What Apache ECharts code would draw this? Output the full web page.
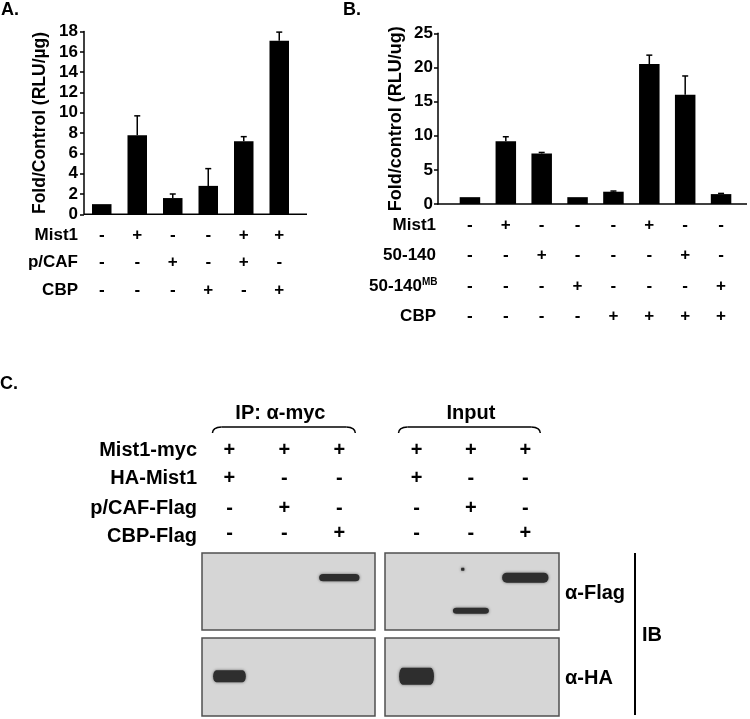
<!DOCTYPE html>
<html>
<head>
<meta charset="utf-8">
<script src="https://cdn.jsdelivr.net/npm/echarts@6/dist/echarts.min.js"></script>
<style>
  html, body { margin: 0; padding: 0; background: #fff; }
  #main { width: 750px; height: 719px; }
</style>
</head>
<body>
<div id="main"></div>
<script>
var FONT = '"Liberation Sans", Arial, Helvetica, sans-serif';

// ---- panel A : luciferase, Mist1 / p/CAF / CBP
var aCategories = ['1', '2', '3', '4', '5', '6'];
var aRowNames = ['Mist1', 'p/CAF', 'CBP'];
var aSigns = [
  ['-', '+', '-', '-', '+', '+'],
  ['-', '-', '+', '-', '+', '-'],
  ['-', '-', '-', '+', '-', '+']
];
var aValues = [1.0, 7.8, 1.6, 2.8, 7.2, 17.1];
var aErrors = [0, 1.9, 0.4, 1.7, 0.45, 0.85];

// ---- panel B : Mist1 / 50-140 / 50-140MB / CBP
var bCategories = ['1', '2', '3', '4', '5', '6', '7', '8'];
var bRowNames = ['Mist1', '50-140', '50-140', 'CBP'];
var bSigns = [
  ['-', '+', '-', '-', '-', '+', '-', '-'],
  ['-', '-', '+', '-', '-', '-', '+', '-'],
  ['-', '-', '-', '+', '-', '-', '-', '+'],
  ['-', '-', '-', '-', '+', '+', '+', '+']
];
var bValues = [1.0, 9.2, 7.4, 1.0, 1.8, 20.5, 16.0, 1.45];
var bErrors = [0, 0.65, 0.15, 0, 0.1, 1.3, 2.75, 0.1];

// ---- panel C : co-IP blots
var cRowNames = ['Mist1-myc', 'HA-Mist1', 'p/CAF-Flag', 'CBP-Flag'];
var cSigns = [
  ['+', '+', '+'],
  ['+', '-', '-'],
  ['-', '+', '-'],
  ['-', '-', '+']
];
var cLanes = [1, 2, 3];
// band = [lane, migration (0 top .. 1 bottom), intensity, breadth]
var ipFlagBands = [[3, 0.32, 0.29, 0.74]];
var inputFlagBands = [[2, 0.75, 0.21, 0.66], [3, 0.32, 0.5, 0.85], [1.85, 0.21, 0, 0.06]];
var ipHaBands = [[1, 0.49, 0.64, 0.6]];
var inputHaBands = [[1, 0.49, 1.0, 0.64]];

var chart = echarts.init(document.getElementById('main'));

var black = { color: '#000', width: 1.5 };
var boldText = { fontFamily: FONT, fontWeight: 'bold', color: '#000' };

function signFormatter(rows) {
  return function (v, i) {
    return rows.map(function (r) { return r[i]; }).join('\n');
  };
}

function errorSeries(values, errors, idx) {
  return {
    type: 'custom',
    xAxisIndex: idx,
    yAxisIndex: idx,
    z: 3,
    data: values.map(function (v, i) { return [i, v, v + errors[i]]; }),
    renderItem: function (params, api) {
      if (api.value(2) <= api.value(1)) return null;
      var base = api.coord([api.value(0), api.value(1)]);
      var top = api.coord([api.value(0), api.value(2)]);
      return {
        type: 'group',
        children: [
          { type: 'line', shape: { x1: base[0], y1: base[1], x2: top[0], y2: top[1] }, style: { stroke: '#000', lineWidth: 1.5 } },
          { type: 'line', shape: { x1: top[0] - 3, y1: top[1], x2: top[0] + 3, y2: top[1] }, style: { stroke: '#000', lineWidth: 1.5 } }
        ]
      };
    }
  };
}

var bandPath = 'path://M10,0 L90,0 A10,50 0 0 1 90,100 L10,100 A10,50 0 0 1 10,0 Z';

function bandSeries(bands, idx) {
  return {
    type: 'scatter',
    xAxisIndex: idx,
    yAxisIndex: idx,
    symbol: bandPath,
    symbolSize: function (d) { return [Math.max(3, d[3] * 54.5), 3 + 14 * d[2]]; },
    itemStyle: { color: '#2e2e2e', opacity: 1, shadowBlur: 3, shadowColor: 'rgba(20,20,20,0.6)' },
    silent: true,
    data: bands
  };
}

function blotAxisX(idx, min, max) {
  return { gridIndex: idx, type: 'value', min: min, max: max, show: false };
}
function blotAxisY(idx) {
  return { gridIndex: idx, type: 'value', min: 0, max: 1, inverse: true, show: false };
}
var blotGrid = { show: true, backgroundColor: '#d6d6d6', borderColor: '#505050', borderWidth: 1.5 };

chart.setOption({
  animation: false,
  grid: [
    { left: 84, top: 31.6, width: 213, height: 182.7 },
    { left: 452, top: 33.3, width: 287, height: 170.7 },
    Object.assign({ left: 202, top: 553, width: 173, height: 77 }, blotGrid),
    Object.assign({ left: 385, top: 553, width: 174, height: 77 }, blotGrid),
    Object.assign({ left: 202, top: 638, width: 173, height: 78 }, blotGrid),
    Object.assign({ left: 385, top: 638, width: 174, height: 78 }, blotGrid)
  ],
  xAxis: [
    {
      gridIndex: 0, type: 'category', data: aCategories,
      axisLine: { show: false }, axisTick: { show: false },
      axisLabel: Object.assign({ interval: 0, margin: 7, lineHeight: 27.5, fontSize: 17, formatter: signFormatter(aSigns) }, boldText)
    },
    {
      gridIndex: 1, type: 'category', data: bCategories,
      axisLine: { show: false }, axisTick: { show: false },
      axisLabel: Object.assign({ interval: 0, margin: 6, lineHeight: 30.5, fontSize: 17, formatter: signFormatter(bSigns) }, boldText)
    },
    blotAxisX(2, 0.5, 3.65),
    blotAxisX(3, 0.42, 3.62),
    blotAxisX(4, 0.5, 3.65),
    blotAxisX(5, 0.42, 3.62)
  ],
  yAxis: [
    {
      gridIndex: 0, type: 'value', min: 0, max: 18, interval: 2,
      name: 'Fold/Control (RLU/µg)', nameLocation: 'middle', nameGap: 35, nameRotate: 90,
      nameTextStyle: Object.assign({ fontSize: 17.5 }, boldText),
      axisLine: { show: true, lineStyle: black },
      axisTick: { show: true, length: 4, lineStyle: black },
      axisLabel: Object.assign({ margin: 6, fontSize: 17 }, boldText),
      splitLine: { show: false }
    },
    {
      gridIndex: 1, type: 'value', min: 0, max: 25, interval: 5, offset: 14,
      name: 'Fold/control (RLU/ug)', nameLocation: 'middle', nameGap: 33, nameRotate: 90,
      nameTextStyle: Object.assign({ fontSize: 18 }, boldText),
      axisLine: { show: true, lineStyle: black },
      axisTick: { show: true, length: 4, lineStyle: black },
      axisLabel: Object.assign({ margin: 5, fontSize: 17 }, boldText),
      splitLine: { show: false }
    },
    blotAxisY(2), blotAxisY(3), blotAxisY(4), blotAxisY(5)
  ],
  series: [
    { type: 'bar', xAxisIndex: 0, yAxisIndex: 0, data: aValues, barWidth: 19.5, itemStyle: { color: '#000' } },
    errorSeries(aValues, aErrors, 0),
    { type: 'bar', xAxisIndex: 1, yAxisIndex: 1, data: bValues, barWidth: 20.5, itemStyle: { color: '#000' } },
    errorSeries(bValues, bErrors, 1),
    bandSeries(ipFlagBands, 2),
    bandSeries(inputFlagBands, 3),
    bandSeries(ipHaBands, 4),
    bandSeries(inputHaBands, 5)
  ]
});

// ---- labels, table rows, brackets (positions taken from the axes where possible)
function text(x, y, s, size, align, extra) {
  return {
    type: 'text', x: x, y: y, silent: true,
    style: Object.assign({
      text: s, fill: '#000', fontFamily: FONT, fontWeight: 'bold', fontSize: size,
      align: align || 'center', verticalAlign: 'middle'
    }, extra || {})
  };
}
function hline(x1, x2, y, w) {
  return { type: 'line', silent: true, z: 10, shape: { x1: x1, y1: y, x2: x2, y2: y }, style: { stroke: '#000', lineWidth: w || 1.5 } };
}
function bracket(x1, x2, y) {
  var st = { stroke: '#000', lineWidth: 1.5, fill: null };
  return [
    { type: 'bezierCurve', silent: true, shape: { x1: x1, y1: y + 6, x2: x1 + 9, y2: y, cpx1: x1, cpy1: y + 0.5 }, style: st },
    hline(x1 + 9, x2 - 9, y),
    { type: 'bezierCurve', silent: true, shape: { x1: x2 - 9, y1: y, x2: x2, y2: y + 6, cpx1: x2, cpy1: y + 0.5 }, style: st }
  ];
}

var g = [];
g.push(text(1, 10, 'A.', 18, 'left'));
g.push(text(343, 10, 'B.', 18, 'left'));
g.push(text(0, 384, 'C.', 18, 'left'));

// x axis baselines, running a little past the plotted categories as in the figure
var a0 = chart.convertToPixel({ yAxisIndex: 0 }, 0);
var b0 = chart.convertToPixel({ yAxisIndex: 1 }, 0);
g.push(hline(84, 307, a0));
g.push(hline(437.3, 747, b0));

// row names
aRowNames.forEach(function (n, k) {
  g.push(text(78, a0 + 7 + 27.5 * (k + 0.5), n, 17, 'right'));
});
bRowNames.forEach(function (n, k) {
  var y = b0 + 6 + 30.5 * (k + 0.5);
  if (k === 2) {
    g.push(text(422, y, n, 17, 'right'));
    g.push(text(422, y - 4, 'MB', 10, 'left'));
  } else {
    g.push(text(436, y, n, 17, 'right'));
  }
});

// panel C table
var ipX = cLanes.map(function (l) { return chart.convertToPixel({ xAxisIndex: 2 }, l); });
var inX = cLanes.map(function (l) { return chart.convertToPixel({ xAxisIndex: 3 }, l); });
var cRowY = [450, 478, 508, 536];
cRowNames.forEach(function (n, k) {
  g.push(text(197, cRowY[k], n, 20, 'right'));
  cSigns[k].forEach(function (s, j) {
    var dy = k === 3 ? -3 : 0;
    g.push(text(ipX[j], cRowY[k] + dy, s, 20));
    g.push(text(inX[j], cRowY[k] + dy, s, 20));
  });
});
g.push(text((ipX[0] + ipX[2]) / 2 - 4, 413, 'IP: α-myc', 20));
g.push(text((inX[0] + inX[2]) / 2, 413, 'Input', 20));
g = g.concat(bracket(ipX[0] - 17, ipX[2] + 16, 427));
g = g.concat(bracket(inX[0] - 18, inX[2] + 15, 427));

// blot labels
g.push(text(565, 593, 'α-Flag', 20, 'left'));
g.push(text(565, 678, 'α-HA', 20, 'left'));
g.push({ type: 'line', silent: true, shape: { x1: 635, y1: 553, x2: 635, y2: 715 }, style: { stroke: '#000', lineWidth: 2 } });
g.push(text(642, 635, 'IB', 20, 'left'));

chart.setOption({ graphic: g });
</script>
</body>
</html>
